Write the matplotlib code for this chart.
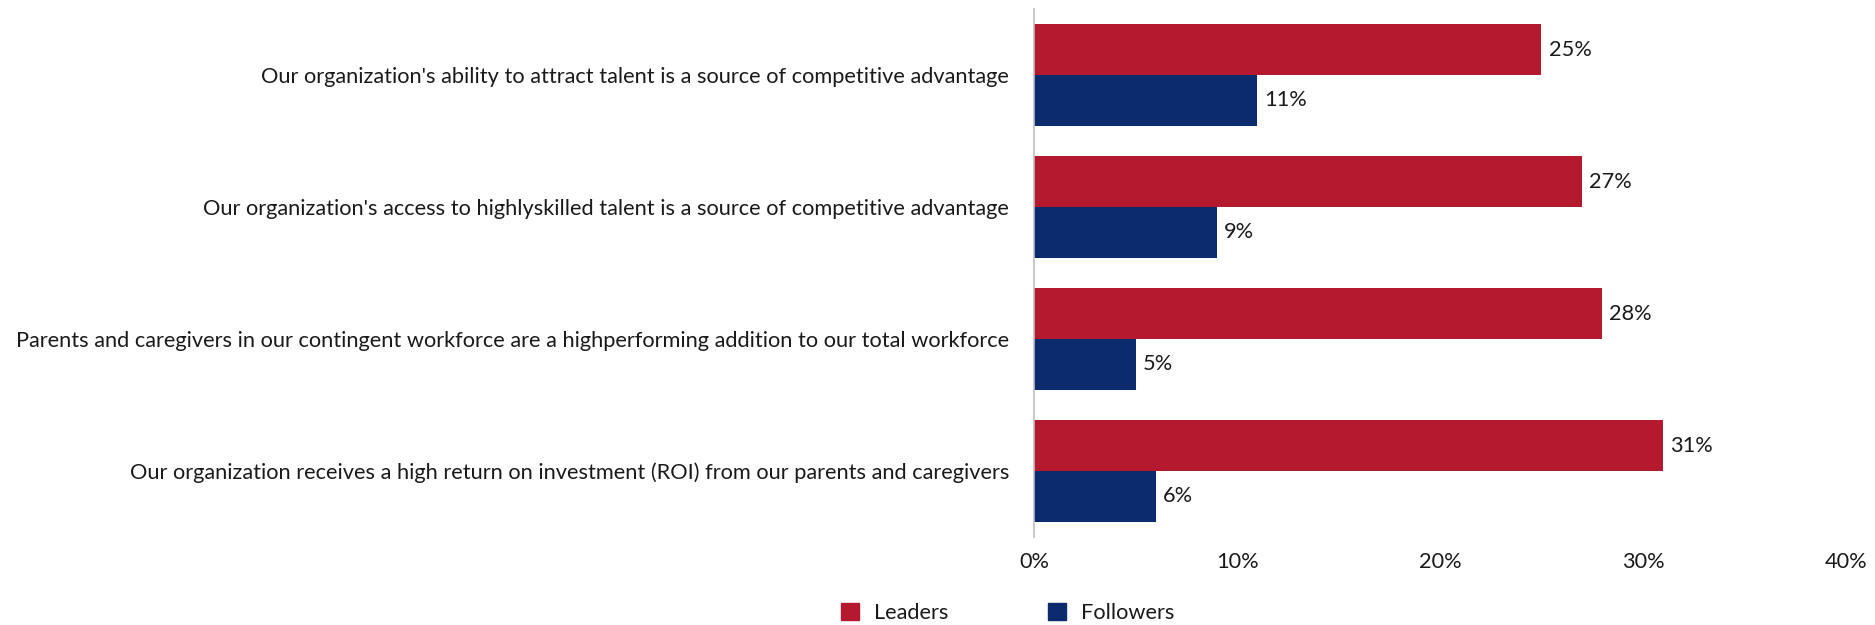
import numpy as np
import matplotlib.pyplot as plt
from matplotlib.patches import Patch

# survey statements and share agreeing, by group
statements = [
    "Our organization's ability to attract talent is a source of competitive advantage",
    "Our organization's access to highlyskilled talent is a source of competitive advantage",
    "Parents and caregivers in our contingent workforce are a highperforming addition to our total workforce",
    "Our organization receives a high return on investment (ROI) from our parents and caregivers",
]
leaders = [25, 27, 28, 31]
followers = [11, 9, 5, 6]
xticks = [0, 10, 20, 30, 40]

RED = "#B5192F"
BLUE = "#0C2A6E"
TEXT = "#1a1a1a"

plt.rcParams['font.family'] = ['Lato', 'DejaVu Sans']
FS = 15.7

fig = plt.figure(figsize=(18.75, 6.25), dpi=100)
ax = fig.add_axes([0.5515, 0.1408, 0.433, 0.8448])

y = np.arange(len(statements))
h = 0.386
bars_l = ax.barh(y - h / 2, leaders, height=h, color=RED, label="Leaders")
bars_f = ax.barh(y + h / 2, followers, height=h, color=BLUE, label="Followers")

for bars, vals in ((bars_l, leaders), (bars_f, followers)):
    for b, v in zip(bars, vals):
        ax.text(b.get_width() + 0.35, b.get_y() + b.get_height() / 2, f"{v}%",
                va="center", ha="left", fontsize=FS, color=TEXT)

ax.set_xlim(0, 40)
ax.set_ylim(3.5, -0.5)
ax.set_xticks(xticks)
ax.set_xticklabels([f"{t}%" for t in xticks], fontsize=FS, color=TEXT)
ax.set_yticks(y)
ax.set_yticklabels(statements, fontsize=FS, color=TEXT)
ax.tick_params(axis="both", length=0)
ax.tick_params(axis="y", pad=18)
ax.tick_params(axis="x", pad=11)

for s in ("top", "right", "bottom"):
    ax.spines[s].set_visible(False)
ax.spines["left"].set_color("#BFBFBF")
ax.spines["left"].set_linewidth(1.2)

handles = [Patch(color=RED, label="Leaders"), Patch(color=BLUE, label="Followers")]
fig.legend(handles=handles, loc="center", bbox_to_anchor=(0.5375, 0.019), ncol=2,
           frameon=False, fontsize=FS, handlelength=0.8, handleheight=0.8,
           handletextpad=0.7, columnspacing=4.6, labelcolor=TEXT)

fig.savefig("out.png", dpi=100, facecolor="white")
